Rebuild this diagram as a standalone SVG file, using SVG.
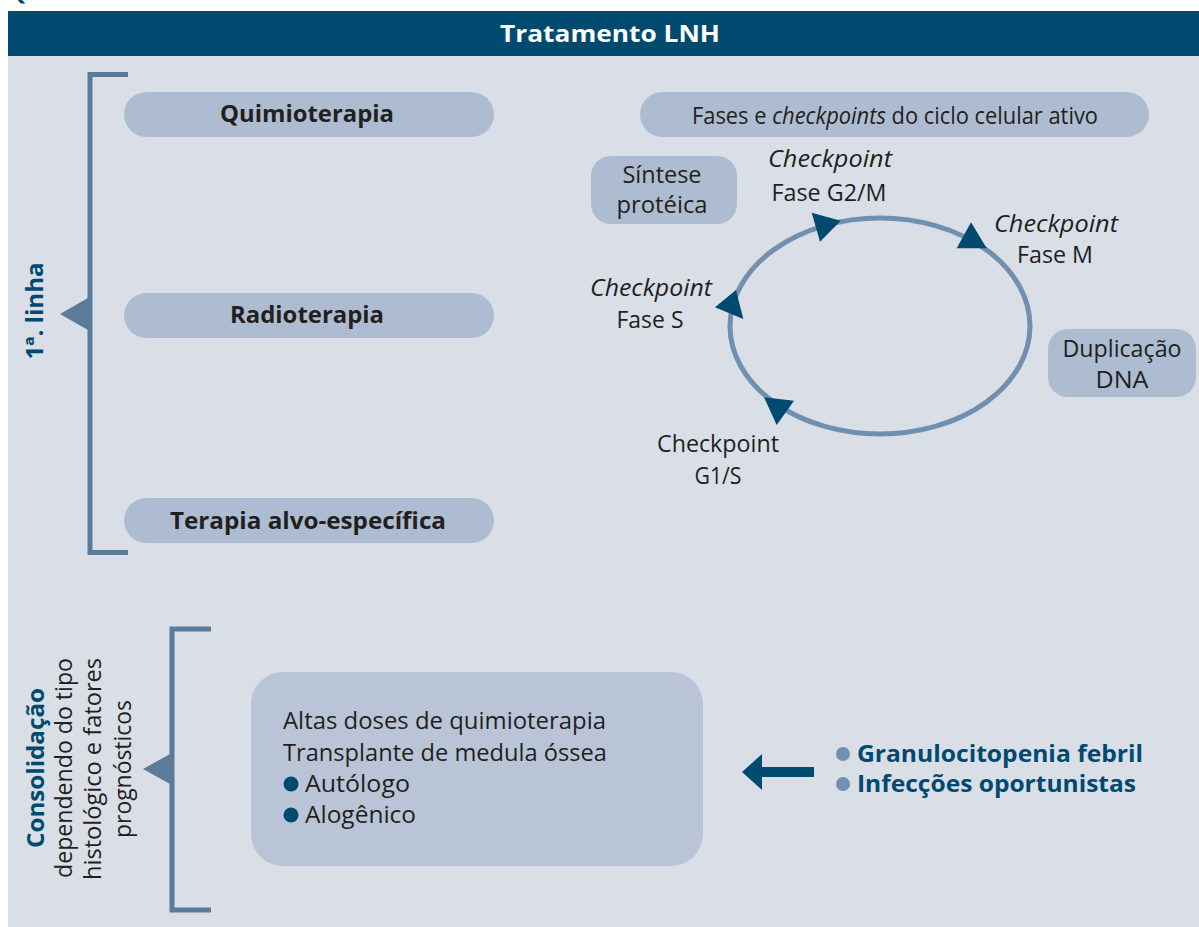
<svg xmlns="http://www.w3.org/2000/svg" width="1199" height="927" viewBox="0 0 1199 927">
<style>
.t{font-family:"Open Sans","Noto Sans","Liberation Sans",sans-serif;fill:#231F20;font-size:23.5px}
.b{font-weight:bold}
.blue{fill:#004A70}
.wh{fill:#FFFFFF}
.pill{fill:#ADBCD0}
.brk{fill:none;stroke:#5B7B9B;stroke-width:5}
.tri{fill:#5B7B9B}
.ah{fill:#004A70}
.m{text-anchor:middle}
.it{font-style:italic}
</style>
<rect x="0" y="0" width="1199" height="927" fill="#FFFFFF"/>
<text class="t b blue" x="8" y="0" font-size="18">Quadro</text>
<rect x="8" y="11" width="1191" height="916" fill="#D9DEE7"/>
<g id="header">
<rect x="8" y="11" width="1191" height="45" fill="#004A70"/>
<text class="t b wh m" x="610" y="42" font-size="29" textLength="220" lengthAdjust="spacingAndGlyphs">Tratamento LNH</text>
</g>
<g id="primeira-linha">
<path class="brk" d="M128,74.5 H90 V552.5 H128"/>
<polygon class="tri" points="60,314 88,298 88,330"/>
<text class="t b blue m" transform="translate(43,311) rotate(-90)" font-size="24" textLength="97" lengthAdjust="spacingAndGlyphs">1ª. linha</text>
</g>
<g id="quimioterapia">
<rect class="pill" x="124" y="92" width="370" height="45" rx="22.5"/>
<text class="t b m" x="307" y="122" font-size="25" textLength="174" lengthAdjust="spacingAndGlyphs">Quimioterapia</text>
</g>
<g id="radioterapia">
<rect class="pill" x="124" y="293" width="370" height="45" rx="22.5"/>
<text class="t b m" x="307" y="323" font-size="25" textLength="154" lengthAdjust="spacingAndGlyphs">Radioterapia</text>
</g>
<g id="terapia-alvo">
<rect class="pill" x="124" y="498" width="370" height="45" rx="22.5"/>
<text class="t b m" x="308" y="529" font-size="25" textLength="276" lengthAdjust="spacingAndGlyphs">Terapia alvo-específica</text>
</g>
<g id="fases">
<rect class="pill" x="640" y="92" width="509" height="45" rx="22.5"/>
<text class="t m" x="895" y="124" font-size="22.5" textLength="406" lengthAdjust="spacingAndGlyphs">Fases e <tspan class="it">checkpoints</tspan> do ciclo celular ativo</text>
</g>
<g id="sintese">
<rect class="pill" x="591" y="156" width="146" height="68" rx="20"/>
<text class="t m" x="662" y="183" textLength="79" lengthAdjust="spacingAndGlyphs">Síntese</text>
<text class="t m" x="662" y="213" textLength="91" lengthAdjust="spacingAndGlyphs">protéica</text>
</g>
<g id="duplicacao">
<rect class="pill" x="1048" y="329" width="148" height="68" rx="20"/>
<text class="t m" x="1122" y="357" textLength="119" lengthAdjust="spacingAndGlyphs">Duplicação</text>
<text class="t m" x="1122" y="388" textLength="53" lengthAdjust="spacingAndGlyphs">DNA</text>
</g>
<g id="ciclo">
<ellipse cx="880" cy="326" rx="150" ry="108" fill="none" stroke="#7190B0" stroke-width="5"/>
</g>
<g id="connectors">
<polygon class="ah" points="811.7,212.7 820,241.7 840.7,220.7"/>
<polygon class="ah" points="971,222.3 956.7,248.3 986.7,248.3"/>
<polygon class="ah" points="736,290 715,307.3 743.3,319"/>
<polygon class="ah" points="764,397.3 794,400.7 776.7,425"/>
<polygon class="ah" points="742,772 762,754 762,767 814,767 814,777 762,777 762,790"/>
</g>
<g id="cp-g2m">
<text class="t m it" x="830" y="167" textLength="124" lengthAdjust="spacingAndGlyphs">Checkpoint</text>
<text class="t m" x="829" y="201" textLength="115" lengthAdjust="spacingAndGlyphs">Fase G2/M</text>
</g>
<g id="cp-m">
<text class="t m it" x="1056" y="232" textLength="124" lengthAdjust="spacingAndGlyphs">Checkpoint</text>
<text class="t m" x="1055" y="263" textLength="76" lengthAdjust="spacingAndGlyphs">Fase M</text>
</g>
<g id="cp-s">
<text class="t m it" x="651" y="296" textLength="122" lengthAdjust="spacingAndGlyphs">Checkpoint</text>
<text class="t m" x="650" y="328" textLength="67" lengthAdjust="spacingAndGlyphs">Fase S</text>
</g>
<g id="cp-g1s">
<text class="t m" x="718" y="452" textLength="122" lengthAdjust="spacingAndGlyphs">Checkpoint</text>
<text class="t m" x="718" y="484" textLength="47" lengthAdjust="spacingAndGlyphs">G1/S</text>
</g>
<g id="consolidacao">
<path class="brk" d="M211,629 H172 V910 H211"/>
<polygon class="tri" points="143,769 170,754 170,784"/>
<text class="t b blue m" transform="translate(44,768) rotate(-90)" font-size="24.5" textLength="160" lengthAdjust="spacingAndGlyphs">Consolidação</text>
<text class="t m" transform="translate(72,768) rotate(-90)" textLength="220" lengthAdjust="spacingAndGlyphs">dependendo do tipo</text>
<text class="t m" transform="translate(101,769) rotate(-90)" textLength="222" lengthAdjust="spacingAndGlyphs">histológico e fatores</text>
<text class="t m" transform="translate(131,769) rotate(-90)" textLength="138" lengthAdjust="spacingAndGlyphs">prognósticos</text>
</g>
<g id="tratamento-box">
<rect x="251" y="672" width="452" height="194" rx="32" fill="#B9C5D6"/>
<text class="t" x="283" y="729" font-size="24.5" textLength="323" lengthAdjust="spacingAndGlyphs">Altas doses de quimioterapia</text>
<text class="t" x="283" y="761" font-size="24.5" textLength="324" lengthAdjust="spacingAndGlyphs">Transplante de medula óssea</text>
<circle cx="291" cy="784" r="7.5" fill="#004A70"/>
<text class="t" x="305" y="792" font-size="24.5" textLength="105" lengthAdjust="spacingAndGlyphs">Autólogo</text>
<circle cx="291" cy="815" r="7.5" fill="#004A70"/>
<text class="t" x="305" y="823" font-size="24.5" textLength="111" lengthAdjust="spacingAndGlyphs">Alogênico</text>
</g>
<g id="complicacoes">
<circle cx="843" cy="754" r="7" fill="#7190B0"/>
<text class="t b blue" x="857" y="762" font-size="25" textLength="286" lengthAdjust="spacingAndGlyphs">Granulocitopenia febril</text>
<circle cx="843" cy="784" r="7" fill="#7190B0"/>
<text class="t b blue" x="857" y="792" font-size="25" textLength="279" lengthAdjust="spacingAndGlyphs">Infecções oportunistas</text>
</g>
</svg>
